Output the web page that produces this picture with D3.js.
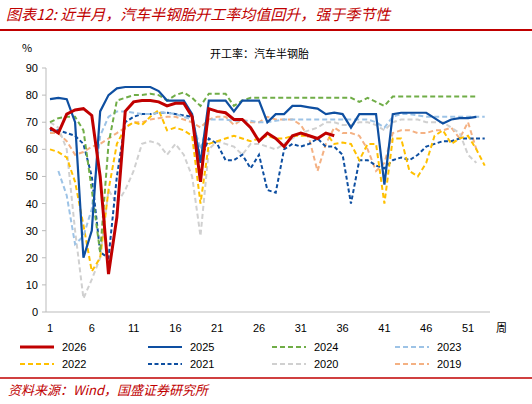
<!DOCTYPE html>
<html><head><meta charset="utf-8">
<script src="https://cdn.jsdelivr.net/npm/d3@7"></script>
<style>body{margin:0;background:#fff;font-family:"Noto Sans CJK SC","Liberation Sans",sans-serif}</style>
</head><body><svg id="c" width="532" height="404"></svg>
<script>
const weeks = d3.range(1, 54);
const xTicks = [1,6,11,16,21,26,31,36,41,46,51];
const yTicks = [0,10,20,30,40,50,60,70,80,90];
const s2026 = [68,66,73,74.5,75,72.5,50,14,35,74,77.5,78,78,77.5,76,77,77,72,48,75,74,73.5,71,71,68,63,66,64,61,65,66,65,64,66,65];
const s2025 = [78.5,79,78.5,70,20,30,74,80,82.5,83,83,83,83,81.5,78,78,78,73,55,78,78,78,74,78,78,78,70,73,73,76,76,75.5,75,73,73.5,73,68,73,73,73,47,73,73.5,73.5,73.5,73.5,71.5,69.5,71,71.5,71.5,72];
const s2024 = [70,71.5,72,72,67,45,22,62,78,79,80,80,80.5,80,78,80,81,79,76,80.5,80.5,80.5,76,78,79,79,79,79,79,79,79,79,79,79,79,79,79,77.5,79,77.5,76,79.5,79.5,79.5,79.5,79.5,79.5,79.5,79.5,79.5,79.5,79.5];
const s2023 = [null,52,43,25,28,38,65,72,74,74,73.5,73,73,73.5,73.5,73,72,71,60,71,71,71,70.5,70.5,70.5,70,70,70.5,71,71,71,71,71,71,71,71,71,71,71,70,68,72,73,73,72.5,72,72,72,72,72,72,72,72];
const s2022 = [60,59,57,48,32,15,20,45,62,68,70,69,72,74.5,67,68,67,65,40,62,63,64,65,64,63,64,65,64,64,65,65,65,64,66,62,62.5,62,56,62,62,40,64,64,52,50,55,65,67,62,64,65,60,54];
const s2021 = [67,67,66,65,62,50,22,20,50,70,72,73,73,73.5,73.5,73,72.5,72,56,64,62,56,56,58,53,58,45,44,60,62,61,62,64,61,61,58,40,56,56,54,53,56,57,56,58,61,62,63,63,64,64,64,64];
const s2020 = [70,68,60,30,5,12,20,45,40,45,52,62,63,62,58,62,58,50,28,60,63,62,61,58,62,62,61,60,62,64,66,67,68,70,70,69,69,70,70,69,67,70,71,71,71,70,70,70,68,66,58,55];
const s2019 = [66,66,63,58,59,61,62,64,66,68,70,70,71,71.5,72,72,71,70,68,71,72,72,69,71,70,70,72,71,71,71,69,64,52,62,68,66,66,65,60,52,55,66,67,67,66,66,67,67,68,64,70,60];
const series = [
 {name:"2026",v:s2026,c:"#c00000",w:3,d:null},
 {name:"2025",v:s2025,c:"#0e4fa1",w:2.2,d:null},
 {name:"2024",v:s2024,c:"#70ad47",w:2,d:"5,3"},
 {name:"2023",v:s2023,c:"#9dc3e6",w:2,d:"5,3"},
 {name:"2022",v:s2022,c:"#ffc000",w:2,d:"5,3"},
 {name:"2021",v:s2021,c:"#0e4fa1",w:2,d:"4,2.5"},
 {name:"2020",v:s2020,c:"#d0d0d0",w:2,d:"5,3"},
 {name:"2019",v:s2019,c:"#f4b183",w:2,d:"5,3"}
];
const svg = d3.select("#c");
const x = d3.scaleLinear().domain([1,51]).range([50,468]);
const y = d3.scaleLinear().domain([0,90]).range([312,68]);
svg.append("text").attr("x",6).attr("y",20).attr("fill","#c00000").attr("font-size",15).attr("font-style","italic").text("图表12:  近半月，汽车半钢胎开工率均值回升，强于季节性");
svg.append("line").attr("x1",0).attr("x2",532).attr("y1",30).attr("y2",30).attr("stroke","#c00000").attr("stroke-width",2);
svg.append("text").attr("x",22).attr("y",52).attr("font-size",11).text("%");
svg.append("text").attr("x",210).attr("y",58).attr("font-size",11).text("开工率：汽车半钢胎");
svg.append("line").attr("x1",46).attr("x2",46).attr("y1",68).attr("y2",312).attr("stroke","#bbb");
svg.append("line").attr("x1",46).attr("x2",490).attr("y1",312).attr("y2",312).attr("stroke","#bbb");
yTicks.forEach(t=>{
 svg.append("line").attr("x1",42).attr("x2",46).attr("y1",y(t)).attr("y2",y(t)).attr("stroke","#bbb");
 svg.append("text").attr("x",38).attr("y",y(t)+4).attr("text-anchor","end").attr("font-size",11).attr("font-family","Liberation Sans").text(t);
});
xTicks.forEach(t=>{
 svg.append("text").attr("x",x(t)).attr("y",332).attr("text-anchor","middle").attr("font-size",11).attr("font-family","Liberation Sans").text(t);
});
svg.append("text").attr("x",496).attr("y",332).attr("font-size",11).text("周");
const line = d3.line().defined(d=>d!=null).x((d,i)=>x(i+1)).y(d=>y(d));
[...series].reverse().forEach(s=>{
 svg.append("path").attr("d",line(s.v)).attr("fill","none").attr("stroke",s.c).attr("stroke-width",s.w).attr("stroke-dasharray",s.d);
});
const lx=[20,148,272,395];
series.forEach((s,i)=>{
 const gx=lx[i%4], gy= i<4?347:364;
 svg.append("line").attr("x1",gx).attr("x2",gx+34).attr("y1",gy).attr("y2",gy).attr("stroke",s.c).attr("stroke-width",s.w).attr("stroke-dasharray",s.d);
 svg.append("text").attr("x",gx+42).attr("y",gy+4).attr("font-size",11).attr("font-family","Liberation Sans").text(s.name);
});
svg.append("line").attr("x1",0).attr("x2",532).attr("y1",378).attr("y2",378).attr("stroke","#c00000").attr("stroke-width",1.5);
svg.append("text").attr("x",8).attr("y",395).attr("fill","#c00000").attr("font-size",13).attr("font-style","italic").text("资料来源：Wind，国盛证券研究所");
</script></body></html>
